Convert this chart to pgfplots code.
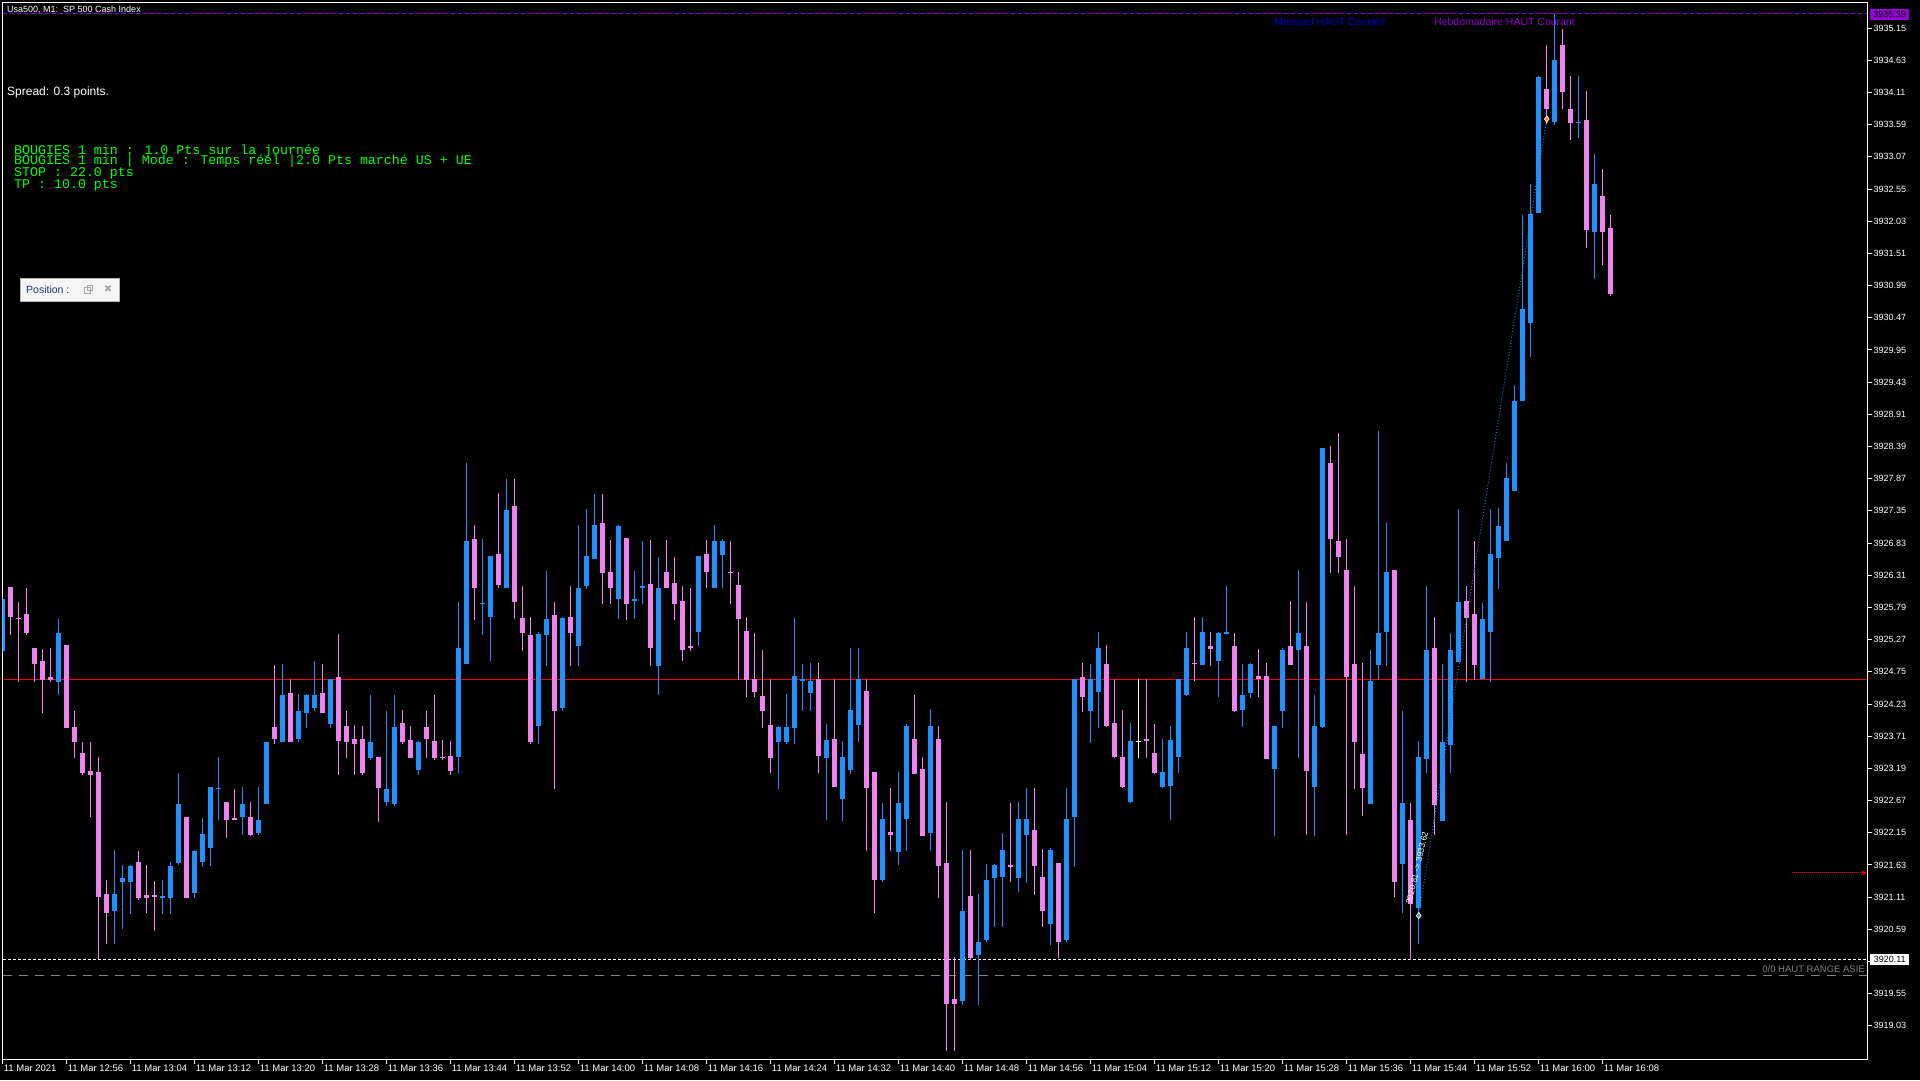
\documentclass[border=0pt]{standalone}
\usepackage{fontspec}
\setmainfont{Liberation Sans}
\newfontfamily\monofont{Liberation Mono}
\newfontfamily\symfont{DejaVu Sans}
\usepackage{pgfplots}
\usepackage{pgfplotstable}
\pgfplotsset{compat=1.18}
\usetikzlibrary{arrows.meta}

\definecolor{upc}{RGB}{30,144,255}
\definecolor{dnc}{RGB}{238,130,238}
\definecolor{dviolet}{RGB}{148,0,211}
\definecolor{mblue}{RGB}{0,0,205}
\definecolor{lgreen}{RGB}{0,255,0}

% bullish candles (blue): i open high low close
\pgfplotstableread{
i o h l c
0 3925.08 3925.97 3925.05 3925.93
7 3924.59 3925.61 3924.37 3925.38
14 3920.89 3921.87 3920.35 3921.16
15 3921.36 3921.63 3920.60 3921.42
16 3921.35 3921.63 3920.83 3921.62
20 3921.10 3921.39 3920.83 3921.13
21 3921.10 3921.68 3920.83 3921.62
22 3921.66 3923.12 3921.63 3922.62
24 3921.17 3921.87 3921.09 3921.86
25 3921.67 3922.39 3921.59 3922.13
26 3921.91 3922.89 3921.61 3922.89
27 3922.85 3923.38 3922.35 3922.88
30 3922.40 3922.89 3922.12 3922.62
32 3922.14 3922.89 3922.11 3922.36
33 3922.61 3923.62 3922.61 3923.62
35 3923.61 3924.88 3923.61 3924.38
37 3923.67 3924.39 3923.61 3924.12
38 3924.09 3924.39 3923.85 3924.38
39 3924.16 3924.93 3924.11 3924.38
41 3923.90 3924.63 3923.85 3924.63
46 3923.35 3924.38 3923.33 3923.62
48 3922.65 3924.12 3922.59 3922.86
49 3922.61 3924.38 3922.59 3923.86
52 3923.16 3923.63 3923.09 3923.62
57 3923.37 3925.88 3923.11 3925.14
58 3924.88 3928.13 3924.88 3926.87
60 3925.84 3926.90 3925.34 3925.86
61 3925.64 3926.62 3924.92 3926.62
63 3926.10 3927.87 3926.10 3927.37
67 3923.88 3925.40 3923.59 3925.36
68 3925.35 3926.38 3924.85 3925.61
70 3924.16 3925.64 3924.11 3925.62
72 3925.16 3927.12 3924.84 3926.11
73 3926.14 3927.38 3926.08 3926.62
74 3926.58 3927.63 3926.58 3927.12
77 3925.92 3927.12 3925.60 3927.11
79 3925.90 3926.38 3925.61 3925.93
80 3926.10 3926.87 3925.84 3926.14
82 3924.84 3926.61 3924.37 3926.11
87 3925.39 3926.62 3925.16 3926.62
89 3926.10 3927.12 3926.10 3926.87
90 3926.63 3926.90 3926.10 3926.87
97 3923.61 3923.88 3922.85 3923.86
98 3923.61 3924.39 3923.58 3923.86
99 3923.85 3925.62 3923.59 3924.69
100 3924.60 3924.88 3924.12 3924.63
101 3924.41 3924.90 3924.12 3924.61
103 3923.36 3923.90 3922.36 3923.65
105 3922.69 3923.63 3922.34 3923.37
106 3923.16 3925.14 3923.10 3924.13
107 3923.89 3925.14 3923.62 3924.63
110 3921.38 3922.63 3921.36 3922.37
112 3921.84 3923.13 3921.63 3922.63
113 3922.37 3923.90 3921.86 3923.87
116 3922.15 3924.15 3921.86 3923.87
120 3919.44 3921.87 3919.36 3920.89
122 3920.17 3921.16 3919.36 3920.39
123 3920.41 3921.65 3920.38 3921.39
124 3921.42 3921.65 3920.62 3921.63
125 3921.44 3922.15 3920.62 3921.87
127 3921.42 3922.65 3921.19 3922.37
128 3922.12 3922.87 3921.34 3922.37
131 3920.67 3921.90 3920.34 3921.87
133 3920.41 3922.87 3920.38 3922.37
134 3922.41 3924.63 3921.60 3924.63
136 3924.12 3924.88 3923.60 3924.63
137 3924.42 3925.40 3923.85 3925.13
141 3922.65 3923.92 3922.63 3923.63
145 3922.89 3923.66 3922.87 3923.13
146 3922.91 3923.88 3922.36 3923.65
147 3923.38 3924.63 3923.12 3924.63
148 3924.38 3925.40 3924.36 3925.13
150 3924.86 3925.64 3924.86 3925.40
152 3924.93 3925.39 3924.35 3925.37
153 3925.36 3926.13 3925.36 3925.39
155 3924.14 3924.87 3923.86 3924.37
156 3924.40 3924.90 3924.33 3924.87
159 3923.18 3923.88 3922.09 3923.88
160 3924.12 3925.13 3923.84 3925.11
162 3925.10 3926.39 3923.36 3925.37
164 3922.89 3924.38 3922.09 3923.88
165 3923.86 3928.37 3923.84 3928.37
171 3922.62 3925.11 3922.62 3924.61
172 3924.86 3928.64 3924.61 3925.37
173 3925.40 3927.15 3924.85 3926.36
175 3921.65 3924.12 3920.86 3922.63
177 3920.93 3923.64 3920.36 3923.37
178 3923.34 3926.14 3923.11 3925.11
180 3922.34 3924.87 3922.34 3923.61
181 3923.57 3925.37 3923.11 3925.11
182 3924.91 3927.38 3924.91 3925.87
185 3924.63 3925.86 3924.63 3925.61
186 3925.40 3927.38 3924.59 3926.65
187 3926.59 3927.40 3926.09 3927.11
188 3926.86 3928.13 3926.86 3927.88
189 3927.67 3929.38 3927.67 3929.12
190 3929.12 3932.13 3929.12 3930.61
191 3930.39 3932.63 3929.84 3932.15
192 3932.17 3934.38 3932.17 3934.36
194 3933.64 3935.38 3933.58 3934.63
197 3933.61 3934.38 3933.37 3933.63
199 3931.86 3933.12 3931.10 3932.63
}\tabup

% bearish candles (pink)
\pgfplotstableread{
i o h l c
1 3926.12 3926.12 3925.34 3925.63
2 3925.62 3925.88 3924.59 3925.60
3 3925.69 3926.10 3925.34 3925.37
4 3925.14 3925.14 3924.59 3924.87
5 3924.93 3925.12 3924.09 3924.61
6 3924.67 3925.14 3924.58 3924.61
8 3925.19 3925.19 3923.85 3923.85
9 3923.86 3924.12 3923.35 3923.61
10 3923.44 3923.62 3923.09 3923.11
11 3923.15 3923.62 3922.40 3923.09
12 3923.13 3923.38 3920.11 3921.12
13 3921.16 3921.39 3920.35 3920.86
17 3921.68 3921.86 3921.07 3921.10
18 3921.15 3921.63 3920.86 3921.10
19 3921.15 3921.37 3920.57 3921.12
23 3922.41 3922.41 3921.09 3921.10
28 3922.65 3922.65 3922.07 3922.36
29 3922.39 3922.86 3922.35 3922.35
31 3922.41 3922.65 3922.09 3922.11
34 3923.86 3924.86 3923.59 3923.66
36 3924.41 3924.63 3923.61 3923.61
40 3924.41 3924.88 3924.09 3924.09
42 3924.67 3925.36 3923.09 3923.64
43 3923.88 3924.12 3923.35 3923.61
44 3923.67 3923.89 3923.09 3923.59
45 3923.67 3923.88 3923.09 3923.11
47 3923.38 3923.38 3922.33 3922.87
50 3923.93 3924.14 3923.58 3923.61
51 3923.65 3923.88 3923.35 3923.35
53 3923.86 3924.12 3923.35 3923.66
54 3923.63 3924.38 3923.33 3923.35
55 3923.38 3923.65 3923.32 3923.35
56 3923.39 3923.63 3923.09 3923.14
59 3926.90 3927.12 3925.58 3926.11
62 3926.66 3927.64 3926.10 3926.16
64 3927.43 3927.87 3925.60 3925.87
65 3925.62 3926.14 3925.09 3925.37
66 3925.35 3925.64 3923.58 3923.61
69 3925.67 3925.88 3922.85 3924.11
71 3925.64 3926.14 3924.84 3925.37
75 3927.16 3927.63 3925.85 3926.35
76 3926.37 3926.88 3925.85 3926.11
78 3926.91 3926.91 3925.58 3925.85
81 3926.17 3926.88 3924.84 3925.13
83 3926.37 3926.88 3926.10 3926.10
84 3926.19 3926.61 3925.58 3925.85
85 3925.90 3926.14 3924.92 3925.11
86 3925.17 3926.10 3925.08 3925.13
88 3926.66 3926.88 3926.10 3926.37
91 3926.37 3926.87 3925.84 3926.34
92 3926.16 3926.37 3924.61 3925.61
93 3925.41 3925.64 3924.34 3924.61
94 3924.63 3925.38 3924.34 3924.42
95 3924.36 3925.11 3923.85 3924.11
96 3923.89 3924.63 3923.11 3923.35
102 3924.63 3924.90 3923.12 3923.39
104 3923.67 3924.63 3922.89 3922.89
108 3924.44 3924.63 3921.86 3922.88
109 3923.13 3923.13 3920.86 3921.38
111 3922.16 3922.88 3921.86 3922.12
114 3923.66 3924.38 3923.10 3923.10
115 3923.18 3923.38 3922.10 3922.10
117 3923.66 3923.88 3921.10 3921.62
118 3921.66 3922.65 3918.62 3919.38
119 3919.46 3920.15 3918.62 3919.38
121 3921.13 3921.87 3920.10 3920.12
126 3921.63 3922.63 3921.36 3921.60
129 3922.19 3922.87 3921.15 3921.62
130 3921.44 3921.89 3920.62 3920.88
132 3921.66 3921.66 3920.12 3920.38
135 3924.67 3924.90 3924.10 3924.35
138 3924.88 3925.19 3923.86 3923.88
139 3923.92 3924.63 3923.36 3923.37
140 3923.38 3924.13 3922.87 3922.89
143 3923.67 3924.63 3923.36 3923.63
144 3923.44 3923.90 3923.10 3923.12
149 3924.90 3925.64 3924.60 3924.88
151 3925.17 3925.39 3924.85 3925.12
154 3925.16 3925.37 3924.10 3924.12
157 3924.68 3925.12 3924.35 3924.63
158 3924.68 3924.90 3923.34 3923.34
161 3925.16 3925.89 3924.86 3924.86
163 3925.17 3925.87 3922.12 3923.14
166 3928.13 3928.40 3926.35 3926.89
167 3926.86 3928.61 3926.35 3926.61
168 3926.39 3926.89 3922.12 3924.67
169 3924.87 3926.13 3922.86 3923.61
170 3923.43 3924.89 3922.42 3922.87
174 3926.39 3926.39 3921.11 3921.36
176 3922.36 3922.63 3920.10 3921.00
179 3925.14 3925.63 3922.11 3922.60
183 3925.89 3926.13 3924.59 3925.62
184 3925.68 3926.86 3924.61 3924.86
193 3934.16 3934.88 3933.60 3933.84
195 3934.88 3935.14 3933.84 3934.11
196 3933.84 3934.38 3933.35 3933.61
198 3933.66 3934.13 3931.59 3931.88
200 3932.44 3932.87 3931.32 3931.86
201 3931.92 3932.13 3930.82 3930.85
}\tabdn

% doji (white)
\pgfplotstableread{
i o h l c
142 3923.62 3924.63 3923.36 3923.64
}\tabdoji

\begin{document}
\begin{tikzpicture}
\fill[black] (0pt,0pt) rectangle (1920pt,1080pt);
\begin{axis}[
  at={(2.7pt,20.7pt)}, anchor=south west,
  scale only axis, width=1864.6pt, height=1056.6pt,
  xmin=0, xmax=233.07, ymin=3918.49, ymax=3935.56,
  axis line style={white, line width=1pt},
  axis background/.style={fill=black},
  tick style={white, line width=1pt},
  tick align=outside, major tick length=5pt,
  xtick pos=bottom, ytick pos=right, yticklabel pos=right,
  ytick={3919.03,3919.55,3920.07,3920.59,3921.11,3921.63,3922.15,3922.67,3923.19,3923.71,3924.23,3924.75,3925.27,3925.79,3926.31,3926.83,3927.35,3927.87,3928.39,3928.91,3929.43,3929.95,3930.47,3930.99,3931.51,3932.03,3932.55,3933.07,3933.59,3934.11,3934.63,3935.15},
  yticklabels={3919.03,3919.55,3920.07,3920.59,3921.11,3921.63,3922.15,3922.67,3923.19,3923.71,3924.23,3924.75,3925.27,3925.79,3926.31,3926.83,3927.35,3927.87,3928.39,3928.91,3929.43,3929.95,3930.47,3930.99,3931.51,3932.03,3932.55,3933.07,3933.59,3934.11,3934.63,3935.15},
  xtick={0,8,...,200},
  xticklabels={11 Mar 2021,11 Mar 12:56,11 Mar 13:04,11 Mar 13:12,11 Mar 13:20,11 Mar 13:28,11 Mar 13:36,11 Mar 13:44,11 Mar 13:52,11 Mar 14:00,11 Mar 14:08,11 Mar 14:16,11 Mar 14:24,11 Mar 14:32,11 Mar 14:40,11 Mar 14:48,11 Mar 14:56,11 Mar 15:04,11 Mar 15:12,11 Mar 15:20,11 Mar 15:28,11 Mar 15:36,11 Mar 15:44,11 Mar 15:52,11 Mar 16:00,11 Mar 16:08},
  y tick label style={text=white, font=\fontsize{9}{9}\selectfont, anchor=west, inner sep=0pt, xshift=1pt},
  x tick label style={text=white, font=\fontsize{9.5}{9.5}\selectfont, anchor=north west, inner sep=0pt, xshift=1pt},
]
% level lines
\addplot[gray, line width=1.2pt, dash pattern=on 9pt off 7pt] coordinates {(0,3919.85) (233.07,3919.85)};
\addplot[white, line width=1pt, dash pattern=on 3pt off 2pt] coordinates {(0,3920.11) (233.07,3920.11)};
\addplot[dviolet, line width=1pt, dash pattern=on 4pt off 3pt] coordinates {(0,3935.38) (233.07,3935.38)};
\addplot[red, line width=1pt] coordinates {(0,3924.63) (233.07,3924.63)};
\addplot[red, line width=1pt, densely dotted, -{Stealth[length=5pt,width=5pt]}] coordinates {(223.6,3921.50) (233.0,3921.50)};

% wicks
\addplot[draw=none, mark=none, error bars/.cd, y dir=plus, y explicit, error mark=none,
  error bar style={draw=upc, solid, line width=1pt}]
  table[x=i, y=l, y error plus expr=\thisrow{h}-\thisrow{l}] {\tabup};
\addplot[draw=none, mark=none, error bars/.cd, y dir=plus, y explicit, error mark=none,
  error bar style={draw=dnc, solid, line width=1pt}]
  table[x=i, y=l, y error plus expr=\thisrow{h}-\thisrow{l}] {\tabdn};
\addplot[draw=none, mark=none, error bars/.cd, y dir=plus, y explicit, error mark=none,
  error bar style={draw=white, solid, line width=1pt}]
  table[x=i, y=l, y error plus expr=\thisrow{h}-\thisrow{l}] {\tabdoji};
% bodies
\addplot[draw=none, mark=none, error bars/.cd, y dir=plus, y explicit, error mark=none,
  error bar style={draw=upc, solid, line width=5pt}]
  table[x=i, y=o, y error plus expr=\thisrow{c}-\thisrow{o}] {\tabup};
\addplot[draw=none, mark=none, error bars/.cd, y dir=plus, y explicit, error mark=none,
  error bar style={draw=dnc, solid, line width=5pt}]
  table[x=i, y=c, y error plus expr=\thisrow{o}-\thisrow{c}] {\tabdn};
\addplot[draw=none, mark=none, error bars/.cd, y dir=plus, y explicit, error mark=none,
  error bar style={draw=white, solid, line width=5pt}]
  table[x=i, y=o, y error plus expr=\thisrow{c}-\thisrow{o}] {\tabdoji};

% trade line with entry / exit marks
\addplot[color=upc!80!black, line width=1pt, dash pattern=on 1pt off 2pt] coordinates {(177,3920.81) (193,3933.68)};
\addplot[only marks, mark=diamond*, mark size=3pt, mark options={fill=upc, draw=white, line width=0.8pt}] coordinates {(177,3920.81)};
\addplot[only marks, mark=diamond*, mark size=3pt, mark options={fill=orange!90!red, draw=white, line width=0.8pt}] coordinates {(193,3933.68)};
\end{axis}

% texts
\node[anchor=west, inner sep=0pt, text=white, font=\fontsize{9}{9}\selectfont] at (7pt,1070.3pt) {Usa500, M1:\ \ SP 500 Cash Index};
\node[anchor=west, inner sep=0pt, text=white, font=\fontsize{12}{12}\selectfont] at (7pt,988pt) {Spread: 0.3 points.};
\begin{scope}[every node/.style={anchor=west, inner sep=0pt, text=lgreen, font=\monofont\fontsize{13.3}{13.3}\selectfont}]
\node at (14pt,928.5pt) {BOUGIES 1 min : 1.0 Pts sur la journée};
\node at (14pt,918.5pt) {BOUGIES 1 min | Mode : Temps réel |2.0 Pts marché US + UE};
\node at (14pt,906.2pt) {STOP : 22.0 pts};
\node at (14pt,894.8pt) {TP : 10.0 pts};
\end{scope}
\draw[fill=gray!8, draw=gray!60] (20pt,779pt) rectangle (119pt,802pt);
\node[anchor=west, inner sep=0pt, text={rgb,255:red,30;green,50;blue,110}, font=\fontsize{10.5}{10.5}\selectfont] at (26pt,790.5pt) {Position :};
\draw[gray!70, line width=0.8pt] (84pt,786.5pt) rectangle (90pt,792.5pt) (87pt,789.5pt) rectangle (92.5pt,795pt);
\node[inner sep=0pt, text=gray!70, font=\symfont\fontsize{10}{10}\selectfont] at (108pt,790.5pt) {✖};
\node[anchor=west, inner sep=0pt, text=mblue, font=\fontsize{10.5}{10.5}\selectfont] at (1273.8pt,1058.7pt) {Mensuel HAUT Courant};
\node[anchor=west, inner sep=0pt, text=dviolet, font=\fontsize{10.5}{10.5}\selectfont] at (1434pt,1058.7pt) {Hebdomadaire HAUT Courant};
\node[anchor=east, inner sep=0pt, text=gray, font=\fontsize{9.5}{9.5}\selectfont] at (1865pt,110.7pt) {0/0 HAUT RANGE ASIE};
\node[anchor=west, fill=dviolet, text=black, inner sep=0pt, minimum width=39pt, minimum height=10.5pt, font=\fontsize{9}{9}\selectfont] at (1870pt,1065.4pt) {3935.39};
\node[anchor=west, fill=white, text=black, inner sep=0pt, minimum width=39pt, minimum height=10.5pt, font=\fontsize{9}{9}\selectfont] at (1870pt,120.7pt) {3920.11};
\node[rotate=77, inner sep=0pt, text=white, font=\fontsize{8.5}{8.5}\selectfont] at (1417pt,212pt) {3920.81 -> 3933.62};
\end{tikzpicture}
\end{document}
